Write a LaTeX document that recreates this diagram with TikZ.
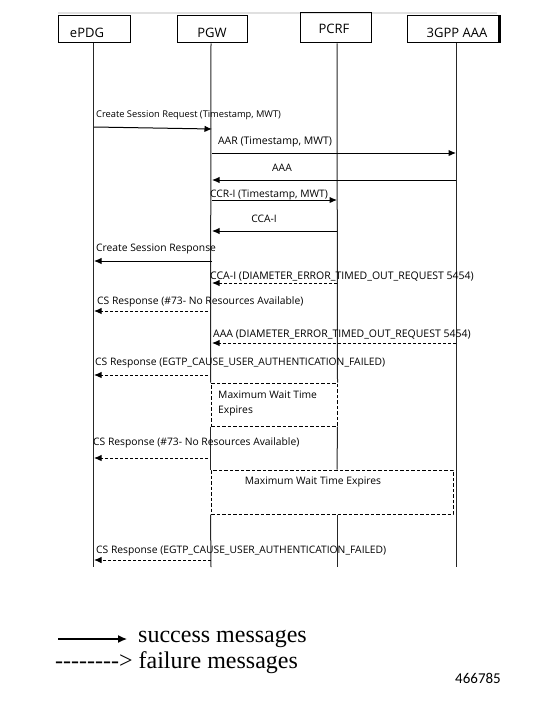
\documentclass[tikz,border=0pt]{standalone}
\usepackage{fontspec}
\setmainfont{Liberation Serif}
\newfontfamily\osans{Open Sans}
\newfontfamily\carl{Carlito}
\usetikzlibrary{arrows.meta}
\begin{document}
\begin{tikzpicture}[x=1pt,y=-1pt,
  ent/.style={draw=black,line width=1pt,minimum height=27pt,inner sep=0pt,font=\osans\fontsize{13}{15}\selectfont},
  life/.style={draw=black!85,line width=1pt},
  msg/.style={draw=black,line width=1pt,-{Latex[length=7.5pt,width=6.5pt]}},
  fail/.style={msg,dash pattern=on 3pt off 2pt},
  lbl/.style={inner sep=0pt,font=\osans\fontsize{10.3}{15}\selectfont},
  wbox/.style={draw=black,line width=1pt,dash pattern=on 3.5pt off 2pt,inner sep=0pt},
  leg/.style={inner sep=0pt,anchor=west,font=\fontsize{24}{26}\selectfont}]
\useasboundingbox (0,0) rectangle (540,701);
% faint top shadow
\draw[black!12,line width=2pt] (58,13) -- (497,13);
% entities
\node[ent,minimum width=72pt] (epdg) at (94,29.5) {};
\node[inner sep=0pt,font=\osans\fontsize{13}{15}\selectfont] (epdgT) at (87,33) {ePDG};
\node[ent,minimum width=70pt] (pgw) at (212,29.5) {};
\node[inner sep=0pt,font=\osans\fontsize{13}{15}\selectfont] (pgwT) at (212,33) {PGW};
\node[ent,minimum width=71pt,minimum height=30pt] (pcrf) at (335.5,28) {};
\node[inner sep=0pt,font=\osans\fontsize{13}{15}\selectfont] (pcrfT) at (334,29) {PCRF};
\node[ent,minimum width=92pt] (aaa) at (453,29.5) {};
\node[inner sep=0pt,font=\osans\fontsize{13}{15}\selectfont] (aaaT) at (457,33) {3GPP AAA};
\draw[line width=3pt] (aaa.north east) -- (aaa.south east);
% lifeline ends
\coordinate (eE) at (93,567);
\coordinate (eA) at (456,567);
\coordinate (eP) at (211,567);
\coordinate (eC) at (337,567);
% wait boxes
\node[wbox,minimum width=126pt,minimum height=43pt] (box1) at (274,404.5) {};
\node[wbox,minimum width=242pt,minimum height=44pt] (box2) at (332,492) {};
% lifelines
\draw[life] (epdg.south -| 93,0) -- (eE);
\draw[life] (aaa.south -| 456,0) -- (eA);
\draw[life] (pgw.south -| 211,0) -- (box1.north west);
\draw[life] (box1.south west) -- (box2.north west);
\draw[life] (box2.south west) -- (eP);
\draw[life] (pcrf.south -| 337,0) -- (box1.north east);
\draw[life] (box1.south east) -- (box2.north -| 337,0);
\draw[life] (box2.south -| 337,0) -- (eC);
% messages
\draw[msg] (epdg |- 0,127) -- (pgw |- 0,129);
\node[lbl,anchor=west,font=\osans\fontsize{9.3}{11}\selectfont] (l1) at (96,115) {Create Session Request (Timestamp, MWT)};
\draw[msg] (pgw |- 0,153) -- (456,153);
\node[lbl,font=\osans\fontsize{10.5}{12}\selectfont] (l2) at (275,142) {AAR (Timestamp, MWT)};
\draw[msg] (456,180) -- (pgw |- 0,180);
\node[lbl] (l3) at (282,168) {AAA};
\draw[msg] (pgw |- 0,200) -- (337,200);
\node[lbl,anchor=west] (l4) at (210,195) {CCR-I (Timestamp, MWT)};
\draw[msg] (337,231) -- (pgw |- 0,231);
\node[lbl] (l5) at (264,219) {CCA-I};
\draw[msg] (pgw |- 0,261) -- (epdg |- 0,261);
\node[lbl,anchor=west] (l6) at (96,249) {Create Session Response};
\draw[fail] (337,283) -- (pgw |- 0,283);
\node[lbl,anchor=west,font=\osans\fontsize{10.5}{12}\selectfont] (l7) at (210,277) {CCA-I (DIAMETER\_ERROR\_TIMED\_OUT\_REQUEST 5454)};
\draw[fail] (208,311) -- (epdg |- 0,311);
\node[lbl,anchor=west] (l8) at (97,302) {CS Response (\#73- No Resources Available)};
\draw[fail] (456,343) -- (pgw |- 0,343);
\node[lbl,anchor=west,font=\osans\fontsize{10.5}{12}\selectfont] (l9) at (213,335) {AAA (DIAMETER\_ERROR\_TIMED\_OUT\_REQUEST 5454)};
\draw[fail] (208,375) -- (epdg |- 0,375);
\node[lbl,anchor=west] (l10) at (95,363) {CS Response (EGTP\_CAUSE\_USER\_AUTHENTICATION\_FAILED)};
\node[lbl,anchor=west,align=left] (t1) at (218,403.5) {Maximum Wait Time\\Expires};
\draw[fail] (208,458) -- (epdg |- 0,458);
\node[lbl,anchor=west] (l12) at (93,443) {CS Response (\#73- No Resources Available)};
\node[lbl] (t2) at (313,482) {Maximum Wait Time Expires};
\draw[fail] (211,560) -- (epdg |- 0,560);
\node[lbl,anchor=west] (l14) at (96,551) {CS Response (EGTP\_CAUSE\_USER\_AUTHENTICATION\_FAILED)};
% legend
\coordinate (s1) at (58,639);
\coordinate (s2) at (127,639);
\draw[line width=1.3pt,-{Latex[length=9pt,width=8pt]}] (s1) -- (s2);
\node[leg] (ls) at (138,639) {success messages};
\node[leg] (lf) at (55,663) {-{}-{}-{}-{}-{}-{}-{}->~failure messages};
\node[inner sep=0pt,anchor=west,font=\carl\fontsize{15}{17}\selectfont] (num) at (455,678) {466785};
\end{tikzpicture}
\end{document}
